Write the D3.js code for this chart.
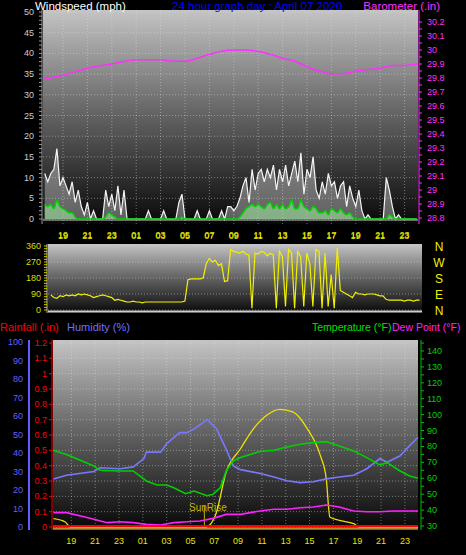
<!DOCTYPE html>
<html><head><meta charset="utf-8">
<script src="https://cdn.jsdelivr.net/npm/d3@7"></script>
<style>body{margin:0;background:#000}svg{display:block;font-family:"Liberation Sans",Arial,sans-serif}</style>
</head><body>
<script>
// hour values: 19 = 19:00 previous day, 25 = 01:00 etc.
var hourTicks = [19,21,23,25,27,29,31,33,35,37,39,41,43,45,47];
var hourLabel = function(h){ return d3.format("02")(h % 24); };

// wind, 0.25 h steps from 17.5
var windGust = [11,9,11,12, 17,8,10,8, 6,9,4,7, 3,1,4,0, 2,0,0,0, 7,3,6,2, 8,1,7,0, 0,0,0,0,
  0,0,2,0, 0,0,0,2, 0,0,0,0, 4,6,0,0, 0,0,2,0, 0,0,2,0, 0,0,2,0, 3,3,2,3, 5,8,10,4,
  12,7,11,12, 9,12,10,13, 7,12,9,13, 8,11,14,9, 16,6,12,10, 15,7,5,9, 6,11,8,9, 5,8,9,3,
  8,5,3,7, 2,0,1,0, 0,0,0,0, 10,7,3,0, 1,0,0,0, 0,0,0];
var windAvg = [3.5,3,3.5,2.5, 4.5,3,2.5,2, 1.5,1.5,0.5,0, 0,0,0,0, 0,0,0,0, 0.5,1.5,1,0.5, 0,0,0,0, 0,0,0,0,
  0,0,0,0, 0,0,0,0, 0,0,0,0, 0,0.5,0,0, 0,0,0,0, 0,0,0,0, 0,0,0,0, 0,0,0,0, 0.5,1.5,2.5,3,
  3.5,3,3.5,3, 2.5,3.5,4,2.5, 3.5,2.5,3.5,2.5, 3,4.5,2.5,2.5, 4.5,3,2.5,2, 3,2.5,1.5,1.5, 2,1,2.5,2, 1.5,2.5,1.5,1,
  1.5,0.5,0,0, 0,0,0,0, 0,0,0,0, 0,1,0.5,0, 0,0,0,0, 0,0,0];
var windDir = [70,75,85,70, 65,80,75,85, 80,85,80,90, 85,90,85,80, 70,75,80,85, 80,75,70,55, 60,55,50,45,
  45,50,45,45, 40,45,45,45, 45,45,45,45, 45,45,45,45, 45,45,50,170, 175,175,175,175, 180,260,290,270,
  280,250,260,160, 165,340,330,325, 320,330,315,310, 10,320,315,330, 325,305,320,310, 10,330,300,20,
  340,320,10,330, 300,20,320,260, 20,340,330,10, 320,20,200,10, 350,110,100,90, 80,70,100,90,
  90,85,90,90, 90,85,80,80, 60,55,55,55, 55,55,50,55, 55,50,55,55];

var baroHours = [17.4,19,21,23,25,27,28,29,30,31,33,34,35,36,37,38,39,40,41,42,43,44,45,46,47,48.1];
var baroVals = [29.79,29.82,29.87,29.9,29.93,29.93,29.92,29.92,29.94,29.97,30.0,30.0,29.99,29.97,29.94,29.92,29.88,29.85,29.83,29.83,29.85,29.86,29.87,29.89,29.89,29.9];

var humHours = [17.5,18.6,20.9,21.4,23.1,24.2,25.1,25.3,26.5,27,28.1,28.7,29.3,30.4,31.2,32,32.6,33.2,34.8,36,37.1,38.2,39.3,40.4,41.5,42.7,43.8,44.9,45.5,46.6,47.4,48.1];
var humVals = [26,28,30,32,31.5,32.5,37,40.5,40.5,45,51,51,53,58,53,42,33,31,29,27,25,24,24.5,26,27,28,31.5,37,35,38.5,44,48.5];

var tempHours = [17.5,18.6,20.9,21.4,23.1,24.2,25.3,26.2,27,27.6,28.6,29.3,30.4,30.9,31.5,32,32.6,33.2,34.8,36,37.1,38.2,39.3,40.4,41.5,42.7,43.8,44.9,45.5,46.6,47.4,48.1];
var tempVals = [77.6,75,67.7,65,64.6,64.6,58.3,55.8,55.8,54,50.3,52,49,50,54,64.6,71,73,76.8,77.6,79.7,81.4,82.4,83,80.3,77.2,73,68.4,69.8,64.6,61.4,60];

var dewHours = [17.5,18.6,19.8,20.9,22,23.1,24.2,25.3,26.5,27.6,28.7,29.8,30.9,32,33.2,34.8,36,37.1,38.2,39.3,40.4,41.5,42.7,43.8,44.9,46,47.1,48.1];
var dewVals = [38.4,38.4,36.3,34.2,32.1,32.7,32.1,31,30.6,32.1,32.7,33.1,34.8,37.3,37.3,39.4,40.5,40.5,41.5,41.9,43.2,41.9,39.4,39,39,39.4,39.4,39.4];

var solarHours = [17.5,18.5,18.9,30.3,31.1,32,33.2,34.3,35.4,36.5,37.6,38.8,39.9,40.4,40.7,41.5,42.7,43.2,48.1];
var solarVals = [4.5,2.7,0,0,6.3,29.7,42.3,53.2,60.4,63.6,62.2,53.2,38.7,26.1,5.4,3.6,1.8,0,0];
var sunRise = 30.17;

var windTicks = d3.range(0,51,5);
var baroTicks = d3.range(28.8,30.25,0.1);
var dirTicks = [0,90,180,270,360];
var compass = ["N","W","S","E","N"];
var humTicks = d3.range(0,101,10);
var rainTicks = d3.range(0,1.25,0.1);
var tempTicks = d3.range(30,141,10);

var svg = d3.select("body").append("svg").attr("width",466).attr("height",555);
var defs = svg.append("defs");
var grad = defs.append("linearGradient").attr("id","bg").attr("x1",0).attr("y1",0).attr("x2",0).attr("y2",1);
grad.append("stop").attr("offset","0%").attr("stop-color","#c4c4c4");
grad.append("stop").attr("offset","45%").attr("stop-color","#6a6a6a");
grad.append("stop").attr("offset","100%").attr("stop-color","#080808");

function panel(x0,x1,y0,y1){
  svg.append("rect").attr("x",x0).attr("y",y0).attr("width",x1-x0).attr("height",y1-y0).attr("fill","url(#bg)");
}
function vgrid(x,y0,y1){
  svg.append("g").selectAll("line").data(hourTicks).enter().append("line")
    .attr("x1",x).attr("x2",x).attr("y1",y0).attr("y2",y1)
    .attr("stroke","#ddd").attr("stroke-opacity",0.45).attr("stroke-dasharray","1,2");
}
function hgrid(ticks,y,x0,x1){
  svg.append("g").selectAll("line").data(ticks).enter().append("line")
    .attr("x1",x0).attr("x2",x1).attr("y1",y).attr("y2",y)
    .attr("stroke","#ddd").attr("stroke-opacity",0.45).attr("stroke-dasharray","1,2");
}
function hourAxis(x,y){
  svg.append("g").selectAll("text").data(hourTicks).enter().append("text")
    .attr("x",x).attr("y",y).attr("text-anchor","middle").attr("font-size",9).attr("fill","#e6e600")
    .text(hourLabel);
}
function tickLabels(ticks,y,xp,anchor,color,fmt){
  svg.append("g").selectAll("text").data(ticks).enter().append("text")
    .attr("x",xp).attr("y",function(d){return y(d)+3;}).attr("text-anchor",anchor)
    .attr("font-size",9).attr("fill",color).text(fmt);
}

// ---- top: wind + barometer
var xT = d3.scaleLinear().domain([17.36,48.1]).range([43,418]);
var yW = d3.scaleLinear().domain([0,50]).range([219,12]);
var yB = d3.scaleLinear().domain([28.8,30.2]).range([218,22]);
panel(43,418,10,224);
vgrid(function(d){return xT(d);},10,224);
hgrid(windTicks,function(d){return yW(d);},43,418);
svg.append("line").attr("x1",43).attr("x2",418).attr("y1",220).attr("y2",220).attr("stroke","#ccc");
var wx = function(d,i){return xT(17.5+i*0.25);};
svg.append("path").datum(windGust)
  .attr("d",d3.area().x(wx).y0(yW(0)).y1(function(d){return yW(d);}))
  .attr("fill","#fff").attr("fill-opacity",0.35);
svg.append("path").datum(windGust)
  .attr("d",d3.line().x(wx).y(function(d){return yW(d);}))
  .attr("fill","none").attr("stroke","#f4f4f4").attr("stroke-width",1.2);
svg.append("path").datum(windAvg)
  .attr("d",d3.area().x(wx).y0(yW(0)).y1(function(d){return yW(d);}))
  .attr("fill","#9de39d").attr("fill-opacity",0.6);
svg.append("path").datum(windAvg)
  .attr("d",d3.line().x(wx).y(function(d){return yW(d);}).curve(d3.curveMonotoneX))
  .attr("fill","none").attr("stroke","#00d000").attr("stroke-width",1.5);
svg.append("path").datum(baroVals)
  .attr("d",d3.line().x(function(d,i){return xT(baroHours[i]);}).y(function(d){return yB(d);}).curve(d3.curveMonotoneX))
  .attr("fill","none").attr("stroke","#ff30ff").attr("stroke-width",1.5);
svg.append("line").attr("x1",42).attr("x2",42).attr("y1",10).attr("y2",224).attr("stroke","#999");
svg.append("g").selectAll("line").data(d3.range(0,51,1)).enter().append("line")
  .attr("x1",39).attr("x2",42).attr("y1",function(d){return yW(d);}).attr("y2",function(d){return yW(d);}).attr("stroke","#999");
tickLabels(windTicks,yW,34,"end","#ccc",function(d){return d;});
svg.append("line").attr("x1",419).attr("x2",419).attr("y1",10).attr("y2",224).attr("stroke","#ff30ff");
svg.append("g").selectAll("line").data(d3.range(0,29)).enter().append("line")
  .attr("x1",419).attr("x2",422).attr("y1",function(d){return yB(28.8+d*0.05);}).attr("y2",function(d){return yB(28.8+d*0.05);}).attr("stroke","#ff30ff");
tickLabels(baroTicks,yB,427,"start","#ff30ff",function(d){return +d.toFixed(1);});
hourAxis(function(d){return xT(d);},238);
svg.append("text").attr("x",35).attr("y",10).attr("font-size",11.5).attr("fill","#fff").text("Windspeed (mph)");
svg.append("text").attr("x",172).attr("y",10).attr("font-size",11.5).attr("fill","#0000ff").text("24 hour graph day : April 07 2020");
svg.append("text").attr("x",440).attr("y",10).attr("font-size",11.5).attr("fill","#ff30ff").attr("text-anchor","end").text("Barometer (.in)");

// ---- middle: wind direction
var xM = d3.scaleLinear().domain([17.77,48.45]).range([48,422]);
var yD = d3.scaleLinear().domain([0,360]).range([310,246]);
panel(48,422,244,313);
hourAxis(function(d){return xM(d);},239);
hgrid(dirTicks,function(d){return yD(d);},48,422);
svg.append("line").attr("x1",48).attr("x2",422).attr("y1",311.5).attr("y2",311.5).attr("stroke","#ccc").attr("stroke-width",2);
svg.append("path").datum(windDir)
  .attr("d",d3.line().x(function(d,i){return xM(17.5+i*0.25);}).y(function(d){return yD(d);}).defined(function(d,i){return 17.5+i*0.25>=17.77;}))
  .attr("fill","none").attr("stroke","#f0f000").attr("stroke-width",1.2);
svg.append("line").attr("x1",47).attr("x2",47).attr("y1",244).attr("y2",313).attr("stroke","#bbb");
svg.append("g").selectAll("line").data(d3.range(0,361,15)).enter().append("line")
  .attr("x1",44).attr("x2",47).attr("y1",function(d){return yD(d);}).attr("y2",function(d){return yD(d);}).attr("stroke","#cccc00");
tickLabels(dirTicks,yD,41,"end","#dddd00",function(d){return d;});
svg.append("g").selectAll("text").data(compass).enter().append("text")
  .attr("x",439).attr("y",function(d,i){return yD(dirTicks[4-i])+5;}).attr("text-anchor","middle")
  .attr("font-size",12).attr("fill","#f0f000").text(function(d){return d;});

// ---- bottom: humidity, rain, temperature, dew point, solar
var xB = d3.scaleLinear().domain([17.38,48.1]).range([52,418]);
var yH = d3.scaleLinear().domain([0,100]).range([527,342]);
var yR = d3.scaleLinear().domain([0,1.2]).range([527,343]);
var yT = d3.scaleLinear().domain([30,140]).range([526,351]);
panel(53,418,340,528);
vgrid(function(d){return xB(d);},340,528);
hgrid(rainTicks,function(d){return yR(d);},53,418);
svg.append("line").attr("x1",53).attr("x2",418).attr("y1",529).attr("y2",529).attr("stroke","#ccc");
svg.append("line").attr("x1",xB(sunRise)).attr("x2",xB(sunRise)).attr("y1",505).attr("y2",528).attr("stroke","#b8b000");
svg.append("text").attr("x",189).attr("y",511).attr("font-size",10).attr("fill","#c8b400").text("SunRise");
var lineB = function(hours,y){ return d3.line().x(function(d,i){return xB(hours[i]);}).y(function(d){return y(d);}); };
svg.append("path").datum(solarVals).attr("d",lineB(solarHours,yH).curve(d3.curveMonotoneX))
  .attr("fill","none").attr("stroke","#f0e000").attr("stroke-width",1.3);
svg.append("path").datum(humVals).attr("d",lineB(humHours,yH))
  .attr("fill","none").attr("stroke","#7878ff").attr("stroke-width",1.6);
svg.append("path").datum(tempVals).attr("d",lineB(tempHours,yT))
  .attr("fill","none").attr("stroke","#00d000").attr("stroke-width",1.6);
svg.append("path").datum(dewVals).attr("d",lineB(dewHours,yT))
  .attr("fill","none").attr("stroke","#ff20ff").attr("stroke-width",1.6);
svg.append("line").attr("x1",53).attr("x2",418).attr("y1",yR(0)-1).attr("y2",yR(0)-1).attr("stroke","#ff0000").attr("stroke-width",2);
svg.append("line").attr("x1",53).attr("x2",418).attr("y1",yR(0)+1).attr("y2",yR(0)+1).attr("stroke","#ffb000").attr("stroke-width",1);
// axes
svg.append("line").attr("x1",29).attr("x2",29).attr("y1",340).attr("y2",530).attr("stroke","#6060ff").attr("stroke-width",2);
tickLabels(humTicks,yH,23,"end","#6060ff",function(d){return d;});
svg.append("line").attr("x1",52).attr("x2",52).attr("y1",340).attr("y2",530).attr("stroke","#ff0000");
svg.append("g").selectAll("line").data(rainTicks).enter().append("line")
  .attr("x1",49).attr("x2",52).attr("y1",function(d){return yR(d);}).attr("y2",function(d){return yR(d);}).attr("stroke","#ff0000");
tickLabels(rainTicks,yR,47,"end","#ff0000",function(d){return +d.toFixed(1);});
svg.append("line").attr("x1",421).attr("x2",421).attr("y1",340).attr("y2",530).attr("stroke","#00c000");
svg.append("g").selectAll("line").data(d3.range(30,146,5)).enter().append("line")
  .attr("x1",421).attr("x2",424).attr("y1",function(d){return yT(d);}).attr("y2",function(d){return yT(d);}).attr("stroke","#00c000");
tickLabels(tempTicks,yT,427,"start","#00d000",function(d){return d;});
hourAxis(function(d){return xB(d);},544);
svg.append("text").attr("x",0).attr("y",331).attr("font-size",11).attr("fill","#ff0000").text("Rainfall (.in)");
svg.append("text").attr("x",67).attr("y",331).attr("font-size",11).attr("fill","#7070ff").text("Humidity (%)");
svg.append("text").attr("x",312).attr("y",331).attr("font-size",10.5).attr("fill","#00e000").text("Temperature (°F)");
svg.append("text").attr("x",392).attr("y",331).attr("font-size",10.5).attr("fill","#ff20ff").text("Dew Point (°F)");
</script>
</body></html>
